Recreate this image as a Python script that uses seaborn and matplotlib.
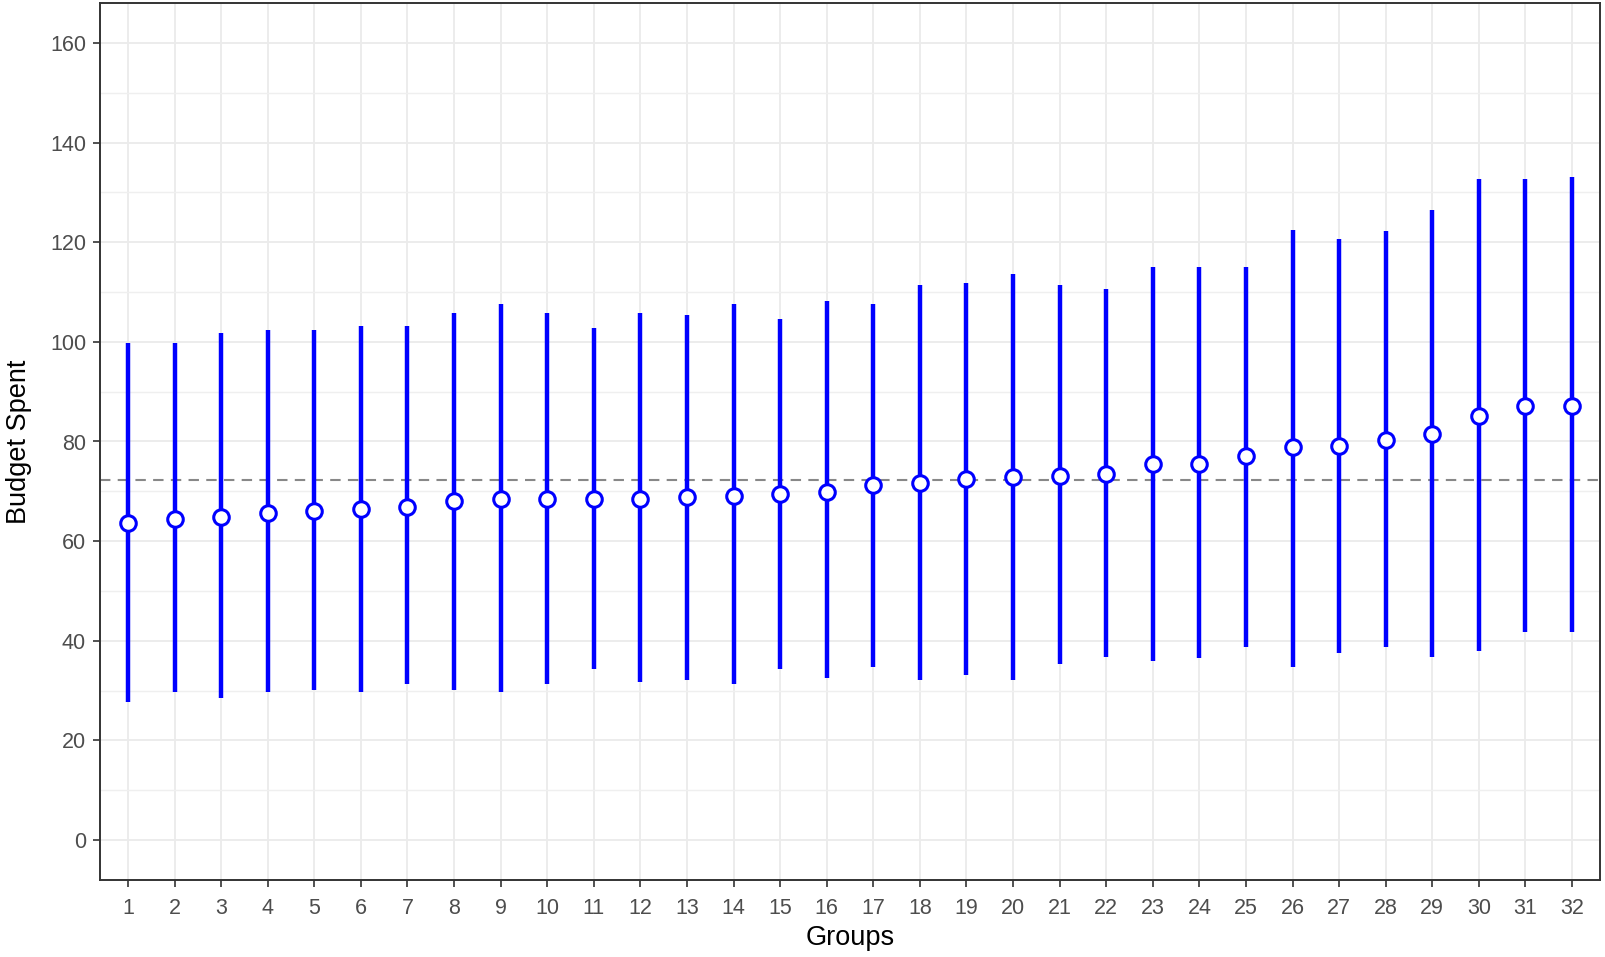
import matplotlib
matplotlib.use("Agg")
import matplotlib.pyplot as plt
from matplotlib.ticker import MultipleLocator
import seaborn as sns
import pandas as pd

groups = list(range(1, 33))
means = [63.7, 64.4, 64.8, 65.6, 66.1, 66.5, 66.9, 68.1, 68.5, 68.5, 68.5, 68.5,
         68.9, 69.1, 69.5, 69.9, 71.2, 71.6, 72.4, 72.8, 73.0, 73.4, 75.5, 75.5,
         77.1, 78.8, 79.0, 80.4, 81.6, 85.1, 87.2, 87.2]
upper = [99.7, 99.7, 101.7, 102.4, 102.4, 103.2, 103.2, 105.8, 107.5, 105.8, 102.8, 105.8,
         105.4, 107.5, 104.6, 108.1, 107.5, 111.4, 111.8, 113.6, 111.4, 110.6, 115.1, 115.1,
         115.1, 122.5, 120.6, 122.3, 126.4, 132.7, 132.7, 133.1]
lower = [27.8, 29.7, 28.5, 29.7, 30.2, 29.7, 31.4, 30.2, 29.7, 31.4, 34.3, 31.8,
         32.2, 31.4, 34.3, 32.6, 34.7, 32.2, 33.2, 32.2, 35.3, 36.7, 35.9, 36.5,
         38.8, 34.7, 37.5, 38.8, 36.7, 37.9, 41.8, 41.8]
overall_mean = 72.3

df = pd.DataFrame({"group": groups, "mean": means, "lower": lower, "upper": upper})

sns.set_style("whitegrid")
plt.rcParams["font.family"] = ["Liberation Sans", "DejaVu Sans"]

W, H = 1605, 957
fig = plt.figure(figsize=(W / 100, H / 100), dpi=100)
ax = fig.add_axes([100 / W, 1 - 880 / H, (1600 - 100) / W, (880 - 3) / H])

# grid like ggplot theme_bw
ax.yaxis.set_major_locator(MultipleLocator(20))
ax.yaxis.set_minor_locator(MultipleLocator(10))
ax.set_xticks(groups)
ax.grid(which="major", color="#EBEBEB", linewidth=1.3)
ax.grid(which="minor", axis="y", color="#EFEFEF", linewidth=1.0)
ax.set_axisbelow(True)

ax.axhline(overall_mean, color="#888888", linestyle=(0, (5, 3.5)), linewidth=1.5, zorder=1)
ax.vlines(df["group"], df["lower"], df["upper"], color="#0000FF", linewidth=3.2, zorder=2)
sns.scatterplot(data=df, x="group", y="mean", ax=ax, marker="o", s=125,
                color="white", edgecolor="#0000FF", linewidth=2.2, zorder=3)

ax.set_xlim(0.4, 32.6)
ax.set_ylim(-8, 168)
ax.set_xlabel("Groups", fontsize=19.5, color="black", labelpad=4)
ax.set_ylabel("Budget Spent", fontsize=19.5, color="black", labelpad=13)
ax.tick_params(axis="both", which="major", labelsize=15.5, labelcolor="#4D4D4D",
               length=5, width=1.2, color="#333333", left=True, bottom=True)
ax.tick_params(axis="x", which="major", pad=8)
ax.tick_params(axis="y", which="major", pad=5)
ax.tick_params(axis="y", which="minor", length=0)
for s in ax.spines.values():
    s.set_color("#333333")
    s.set_linewidth(1.4)

fig.savefig("out.png", dpi=100)
